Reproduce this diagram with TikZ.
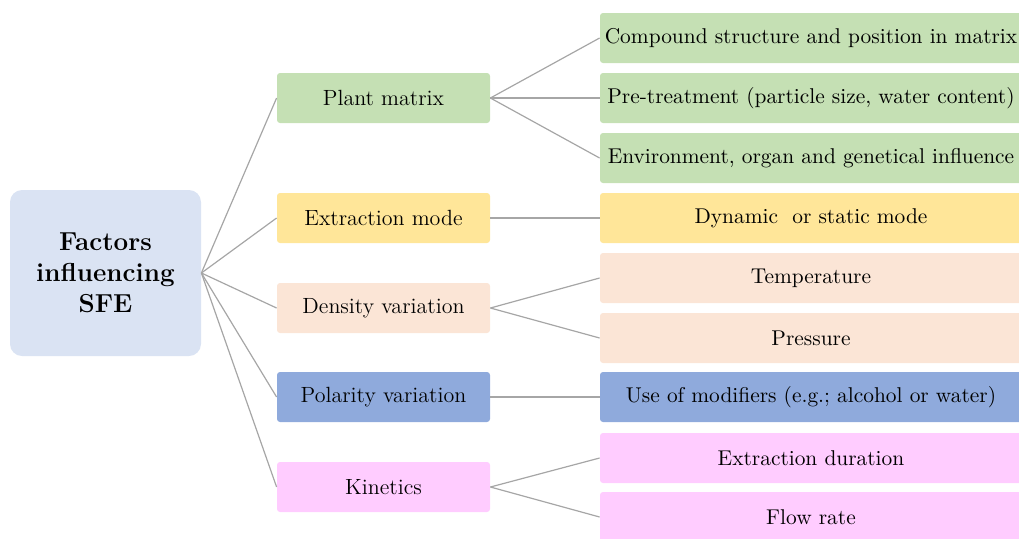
\documentclass[tikz,border=0pt]{standalone}
\usepackage{xcolor}
\definecolor{cblue}{HTML}{DAE3F3}
\definecolor{cgreen}{HTML}{C5E0B4}
\definecolor{cyellow}{HTML}{FFE699}
\definecolor{cpeach}{HTML}{FBE5D6}
\definecolor{cpol}{HTML}{8FAADC}
\definecolor{cpink}{HTML}{FFCCFF}
\definecolor{cline}{HTML}{A6A6A6}
\begin{document}
\begin{tikzpicture}[x=0.5pt,y=-0.5pt,
  rootbox/.style={fill=cblue, rounded corners=6pt, minimum width=95.5pt, minimum height=83pt, inner sep=0pt, align=center, font=\fontsize{13}{15.5}\selectfont\bfseries},
  midbox/.style={rounded corners=1.5pt, minimum width=106.5pt, minimum height=25pt, inner sep=0pt, font=\fontsize{11}{13}\selectfont},
  leafbox/.style={rounded corners=1.5pt, minimum width=211pt, minimum height=25pt, inner sep=0pt, font=\fontsize{10.7}{13}\selectfont},
  link/.style={draw=cline, line width=0.6pt}]
\useasboundingbox (0,0) rectangle (1019,538);
\clip (0,0) rectangle (1019,538);
\node[rootbox] (root) at (105.5,273) {Factors\\influencing\\SFE};
\node[midbox, fill=cgreen] (plant) at (383.5,98) {Plant matrix};
\node[midbox, fill=cyellow] (mode) at (383.5,218) {Extraction mode};
\node[midbox, fill=cpeach] (dens) at (383.5,308) {Density variation};
\node[midbox, fill=cpol] (pol) at (383.5,397) {Polarity variation};
\node[midbox, fill=cpink] (kin) at (383.5,487) {Kinetics};
\node[leafbox, fill=cgreen] (comp) at (811,38) {Compound structure and position in matrix};
\node[leafbox, fill=cgreen] (pre) at (811,98) {Pre-treatment (particle size, water content)};
\node[leafbox, fill=cgreen] (env) at (811,158) {Environment, organ and genetical influence};
\node[leafbox, fill=cyellow] (dyn) at (811,218) {Dynamic\ \ or static mode};
\node[leafbox, fill=cpeach] (temp) at (811,278) {Temperature};
\node[leafbox, fill=cpeach] (pres) at (811,338) {Pressure};
\node[leafbox, fill=cpol] (mod) at (811,397) {Use of modifiers (e.g.; alcohol or water)};
\node[leafbox, fill=cpink] (dur) at (811,458) {Extraction duration};
\node[leafbox, fill=cpink] (flow) at (811,517) {Flow rate};
\foreach \m in {plant,mode,dens,pol,kin}
  \draw[link] (root.east) -- (\m.west);
\foreach \l in {comp,pre,env}
  \draw[link] (plant.east) -- (\l.west);
\draw[link] (mode.east) -- (dyn.west);
\foreach \l in {temp,pres}
  \draw[link] (dens.east) -- (\l.west);
\draw[link] (pol.east) -- (mod.west);
\foreach \l in {dur,flow}
  \draw[link] (kin.east) -- (\l.west);
\end{tikzpicture}
\end{document}
